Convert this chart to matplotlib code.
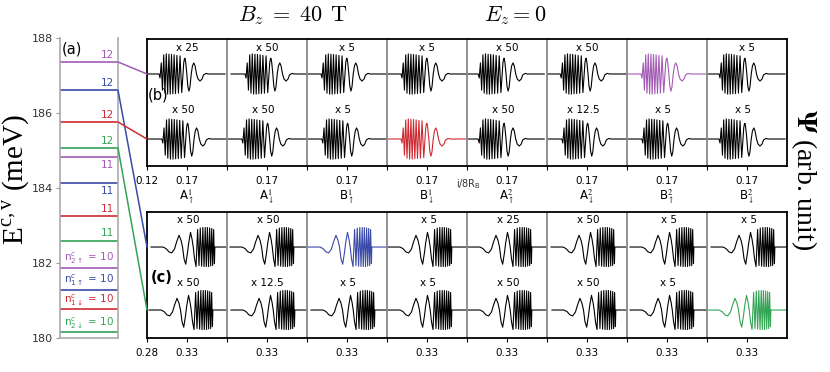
import numpy as np
import matplotlib
matplotlib.use('Agg')
import matplotlib.pyplot as plt
import matplotlib.transforms as mtransforms
from matplotlib.patches import ConnectionPatch

plt.rcParams['font.family'] = ['DejaVu Sans']
plt.rcParams['mathtext.fontset'] = 'stix'

# ---------------- data ----------------
PURPLE, BLUE, RED, GREEN = '#A35BB5', '#3A4AA6', '#CF2A32', '#34A455'

level_energy = [187.36, 186.61, 185.76, 185.07, 184.83, 184.14,
                183.25, 182.60, 181.86, 181.29, 180.77, 180.16]
level_color = [PURPLE, BLUE, RED, GREEN, PURPLE, BLUE,
               RED, GREEN, PURPLE, BLUE, RED, GREEN]
level_label = ['12', '12', '12', '12', '11', '11', '11', '11',
               r'n$^{c}_{2\uparrow}$ = 10', r'n$^{c}_{1\uparrow}$ = 10',
               r'n$^{c}_{1\downarrow}$ = 10', r'n$^{c}_{2\downarrow}$ = 10']
level_label_above = [True, True, True, True, False, False,
                     True, True, True, True, True, True]
energy_ticks = [180, 182, 184, 186, 188]

state_labels_1 = [r'A$^{1}_{\uparrow}$', r'A$^{1}_{\downarrow}$',
                  r'B$^{1}_{\uparrow}$', r'B$^{1}_{\downarrow}$',
                  r'A$^{2}_{\uparrow}$', r'A$^{2}_{\downarrow}$',
                  r'B$^{2}_{\uparrow}$', r'B$^{2}_{\downarrow}$']

# wave-packet shape (fast oscillations on the left), top panels, x in i/8R_B
wave_top_x = [0.1200, 0.1375, 0.1388, 0.1403, 0.1418, 0.1434, 0.1450, 0.1466,
              0.1483, 0.1499, 0.1515, 0.1531, 0.1548, 0.1564, 0.1581, 0.1599,
              0.1618, 0.1638, 0.1659, 0.1675, 0.1684, 0.1693, 0.1700, 0.1708,
              0.1723, 0.1735, 0.1749, 0.1762, 0.1778, 0.1793, 0.1810, 0.1826,
              0.1844, 0.1863, 0.1888, 0.1913, 0.1931, 0.1963, 0.1988, 0.2200]
wave_top_y = [0.00, 0.00, -0.20, 0.55, -0.80, 0.95, -0.95, 1.00,
              -1.00, 0.98, -1.00, 0.97, -0.98, 0.95, -0.97, 0.92,
              -0.95, 0.90, -0.92, 0.00, 0.55, 0.75, 0.78, 0.60,
              0.00, -0.60, -0.85, -0.65, 0.00, 0.40, 0.55, 0.40,
              0.00, -0.25, -0.35, -0.25, -0.05, 0.03, 0.00, 0.00]

# wave-packet shape (fast oscillations on the right), bottom panels
wave_bot_x = [0.2800, 0.2950, 0.2988, 0.3025, 0.3059, 0.3094, 0.3119, 0.3150,
              0.3175, 0.3194, 0.3213, 0.3234, 0.3256, 0.3271, 0.3294, 0.3313,
              0.3328, 0.3344, 0.3363, 0.3383, 0.3400, 0.3416, 0.3433, 0.3448,
              0.3463, 0.3478, 0.3491, 0.3505, 0.3519, 0.3533, 0.3546, 0.3559,
              0.3571, 0.3583, 0.3593, 0.3598, 0.3800]
wave_bot_y = [0.00, 0.00, -0.08, -0.25, -0.30, -0.10, 0.25, 0.60,
              0.35, 0.00, -0.60, -0.88, -0.30, 0.20, 0.75, 0.40,
              0.00, -0.60, -1.00, 0.90, -0.95, 0.97, -0.98, 1.00,
              -1.00, 1.00, -1.00, 1.00, -1.00, 0.98, -0.97, 0.95,
              -0.95, 0.90, -0.85, 0.00, 0.00]

# packet shifts per sub-panel (i/8R_B)
shift_a = [-0.0025, 0.0050, 0.0000, 0.0000, -0.0035, -0.0010, 0.0000, -0.0025]
shift_b = [0.0010, 0.0010, 0.0010, 0.0000, -0.0035, 0.0010, 0.0010, -0.0025]
shift_c1 = [0.0050, 0.0038, 0.0012, 0.0012, 0.0012, 0.0050, 0.0038, 0.0050]
shift_c2 = [0.0025, 0.0050, 0.0050, 0.0012, 0.0012, 0.0062, 0.0038, 0.0000]

mult_a = ['x 25', 'x 50', 'x 5', 'x 5', 'x 50', 'x 50', '', 'x 5']
mult_b = ['x 50', 'x 50', 'x 5', '', 'x 50', 'x 12.5', 'x 5', 'x 5']
mult_c1 = ['x 50', 'x 50', '', 'x 5', 'x 25', 'x 50', 'x 5', 'x 5']
mult_c2 = ['x 50', 'x 12.5', 'x 5', 'x 5', 'x 50', 'x 50', 'x 5', '']

top_xlim = (0.12, 0.22)
bot_xlim = (0.28, 0.38)

# ---------------- figure ----------------
W, H = 830, 372
fig = plt.figure(figsize=(W / 100, H / 100), dpi=100)


def rect(x0, y0, x1, y1):
    return [x0 / W, 1 - y1 / H, (x1 - x0) / W, (y1 - y0) / H]


# left energy panel
axL = fig.add_axes(rect(60, 38, 118, 338))
axL.set_ylim(180, 188)
axL.set_xlim(0, 1)
axL.set_xticks([])
axL.set_yticks(energy_ticks)
axL.tick_params(axis='y', labelsize=8, length=3, color='#999999',
                labelcolor='#333333', pad=2)
axL.spines['top'].set_visible(False)
for s in ['left', 'right', 'bottom']:
    axL.spines[s].set_color('#aaaaaa')
    axL.spines[s].set_linewidth(1.2)
axL.patch.set_alpha(0)
for E, c, lab, above in zip(level_energy, level_color, level_label, level_label_above):
    axL.plot([0, 1], [E, E], color=c, lw=1.2, solid_capstyle='butt')
    if lab.startswith('n'):
        axL.annotate(lab, xy=(0.07, E), xytext=(0, 1.5), textcoords='offset points',
                     ha='left', va='bottom', color=c, fontsize=7.5,
                     math_fontfamily='dejavusans')
    else:
        axL.annotate(lab, xy=(0.93, E), xytext=(0, 1.5 if above else -2),
                     textcoords='offset points', ha='right',
                     va='bottom' if above else 'top', color=c, fontsize=7.5)
axL.text(0.03, 0.965, '(a)', transform=axL.transAxes, fontsize=10.5,
         ha='left', va='center')

# main panels
panels = []
for (y0, y1, xlim, ylim) in [(39, 166, top_xlim, (-0.415, 1.538)),
                             (212, 338, bot_xlim, (-0.444, 1.556))]:
    subs = []
    for k in range(8):
        ax = fig.add_axes(rect(147 + 80 * k, y0, 147 + 80 * (k + 1), y1))
        ax.set_xlim(*xlim)
        ax.set_ylim(*ylim)
        ax.patch.set_alpha(0)
        for s in ['top', 'right', 'bottom']:
            ax.spines[s].set_visible(False)
        if k == 0:
            ax.spines['left'].set_visible(False)
        else:
            ax.spines['left'].set_color('#888888')
            ax.spines['left'].set_linewidth(1.3)
        ax.set_yticks([])
        mid = round((xlim[0] + xlim[1]) / 2, 2)
        ax.set_xticks([xlim[0], mid])
        ax.set_xticklabels([f'{xlim[0]:.2f}' if k == 0 else '', f'{mid:.2f}'])
        ax.tick_params(axis='x', labelsize=7.5, length=3, width=0.8, pad=4,
                       direction='out')
        subs.append(ax)
    frame = fig.add_axes(rect(147, y0, 787, y1))
    frame.set_xticks([])
    frame.set_yticks([])
    frame.patch.set_alpha(0)
    for s in frame.spines.values():
        s.set_linewidth(1.3)
        s.set_color('black')
    panels.append(subs)

AMP = 0.31
rows = [
    (0, 1.0, wave_top_x, wave_top_y, shift_a, mult_a, 6, PURPLE, 0.40, 0.0),
    (0, 0.0, wave_top_x, wave_top_y, shift_b, mult_b, 3, RED, 0.45, -0.005),
    (1, 1.0, wave_bot_x, wave_bot_y, shift_c1, mult_c1, 2, BLUE, 0.43, 0.002),
    (1, 0.0, wave_bot_x, wave_bot_y, shift_c2, mult_c2, 7, GREEN, 0.43, 0.001),
]
for (p, base, tx, ty, shifts, mults, cidx, col, ly, ldx) in rows:
    for k in range(8):
        ax = panels[p][k]
        x = np.array(tx) + shifts[k]
        y = base + AMP * np.array(ty)
        ax.plot(x, y, color=col if k == cidx else 'black', lw=0.8)
        xm = sum(ax.get_xlim()) / 2
        if mults[k]:
            ax.text(xm + ldx, base + ly, mults[k], ha='center', va='center',
                    fontsize=7.5)

# state labels under top panel
for k in range(8):
    ax = panels[0][k]
    ax.text(0.17, -0.235, state_labels_1[k], transform=mtransforms.blended_transform_factory(
        ax.transData, ax.transAxes), ha='center', va='center', fontsize=8.5)

panels[0][0].text(0.121, 0.56, '(b)', transform=mtransforms.blended_transform_factory(
    panels[0][0].transData, panels[0][0].transAxes), fontsize=10.5, ha='left', va='center')
panels[1][0].text(0.285, 0.48, '(c)', transform=mtransforms.blended_transform_factory(
    panels[1][0].transData, panels[1][0].transAxes), fontsize=10.5, ha='left',
    va='center', fontweight='bold')

fig.text(468 / W, 1 - 184 / H, r'i/8R$_{\mathregular{B}}$', fontsize=7,
         ha='center', va='center', color='#333333')

# connectors from n=12 levels to the packet rows
trL = mtransforms.blended_transform_factory(axL.transAxes, axL.transData)
targets = [(0, 1.0), (1, 1.0), (0, 0.0), (1, 0.0)]
for i, (p, base) in enumerate(targets):
    axT = panels[p][0]
    con = ConnectionPatch(xyA=(1, level_energy[i]), coordsA=trL,
                          xyB=(axT.get_xlim()[0], base), coordsB=axT.transData,
                          color=level_color[i], lw=1.1)
    fig.add_artist(con)

# titles and axis labels
fig.text(293 / W, 1 - 16 / H, r'$B_z\;=\;40\;\,\mathrm{T}$', fontsize=16,
         ha='center', va='center', math_fontfamily='cm')
fig.text(515 / W, 1 - 16 / H, r'$E_z = 0$', fontsize=16,
         ha='center', va='center', math_fontfamily='cm')
fig.text(16 / W, 1 - 180 / H, r'E$^{\mathregular{c,v}}$ (meV)', rotation=90,
         fontsize=21, ha='center', va='center', family='Liberation Serif')
fig.text(804 / W, 1 - 180 / H, r'$\mathbf{\Psi}$ (arb. unit)', rotation=270,
         fontsize=20, ha='center', va='center', family='Liberation Serif')

fig.savefig('out.png', dpi=100)
